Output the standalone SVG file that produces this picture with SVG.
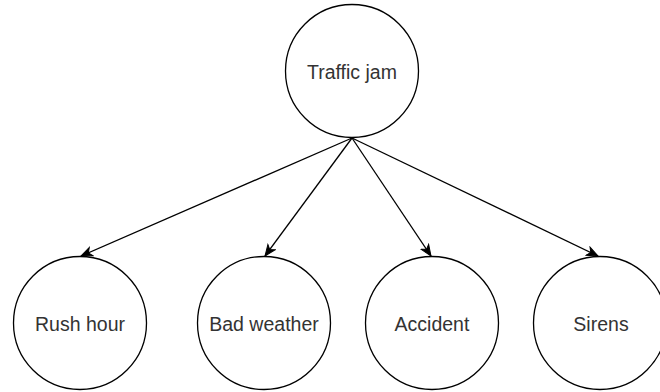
<svg xmlns="http://www.w3.org/2000/svg" width="660" height="392" viewBox="0 0 660 392">
<style>
.node circle{fill:#fff;stroke:#000;stroke-width:1.3}
.node text{font-family:"Liberation Sans",Arial,sans-serif;font-size:19.5px;fill:#333;text-anchor:middle;dominant-baseline:central}
.edge{stroke:#000;stroke-width:1.3;fill:none;marker-end:url(#arr)}
</style>
<defs>
<marker id="arr" markerUnits="userSpaceOnUse" markerWidth="14" markerHeight="12" refX="12" refY="6" orient="auto" viewBox="0 0 14 12">
<path d="M1,1.5 L12,6 L1,10.5 L4,6 Z" fill="#000" stroke="#000" stroke-width="1"/>
</marker>
</defs>
<rect width="660" height="392" fill="#fff"/>
<g id="connectors">
<line class="edge" x1="352" y1="138" x2="81" y2="256"/>
<line class="edge" x1="352" y1="138" x2="265" y2="256"/>
<line class="edge" x1="352" y1="138" x2="431" y2="256"/>
<line class="edge" x1="352" y1="138" x2="598" y2="256"/>
</g>
<g id="traffic-jam" class="node"><circle cx="352" cy="71" r="66.5"/><text x="352" y="72">Traffic jam</text></g>
<g id="rush-hour" class="node"><circle cx="80" cy="323" r="66.5"/><text x="80" y="324">Rush hour</text></g>
<g id="bad-weather" class="node"><circle cx="264" cy="323" r="66.5"/><text x="264" y="324">Bad weather</text></g>
<g id="accident" class="node"><circle cx="432" cy="323" r="66.5"/><text x="432" y="324">Accident</text></g>
<g id="sirens" class="node"><circle cx="600" cy="323" r="66.5"/><text x="601" y="324">Sirens</text></g>
</svg>
